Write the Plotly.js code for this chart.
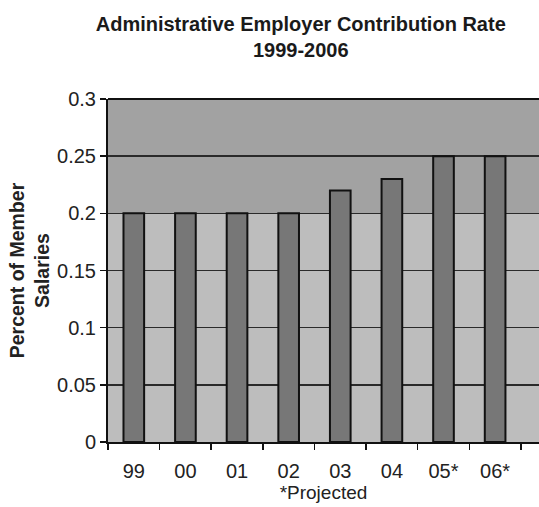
<!DOCTYPE html>
<html>
<head>
<meta charset="utf-8">
<script src="https://cdn.plot.ly/plotly-3.0.1.min.js"></script>
<style>html,body{margin:0;padding:0;background:#fff;}#chart{width:539px;height:507px;}</style>
</head>
<body>
<div id="chart"></div>
<script>
const years = ['99', '00', '01', '02', '03', '04', '05*', '06*'];
const rates = [0.20, 0.20, 0.20, 0.20, 0.22, 0.23, 0.25, 0.25];
const yTicks = [0, 0.05, 0.1, 0.15, 0.2, 0.25, 0.3];
const yTickText = ['0', '0.05', '0.1', '0.15', '0.2', '0.25', '0.3'];

const font = 'Liberation Sans, Arial, sans-serif';

const trace = {
  type: 'bar',
  x: years,
  y: rates,
  marker: {color: '#777777', line: {color: '#111', width: 2}},
  hoverinfo: 'x+y'
};

const layout = {
  width: 539, height: 507,
  margin: {l: 108, r: 0, t: 99, b: 65},
  paper_bgcolor: '#ffffff',
  plot_bgcolor: '#a2a2a2',
  showlegend: false,
  bargap: 0.6,
  title: {
    text: '<b>Administrative Employer Contribution Rate<br>1999-2006</b>',
    font: {family: font, size: 20, color: '#1a1a1a'},
    x: 0.558, xanchor: 'center', xref: 'container',
    y: 0.938, yanchor: 'middle', yref: 'container'
  },
  xaxis: {
    type: 'category',
    range: [-0.5, 7.85],
    tickson: 'boundaries',
    ticks: 'outside', ticklen: 6, tickwidth: 1.5, tickcolor: '#111',
    ticklabelstandoff: 10,
    showline: true, linecolor: '#111', linewidth: 2,
    showgrid: false,
    tickfont: {family: font, size: 20, color: '#222'},
    title: {text: '*Projected', font: {family: font, size: 19, color: '#222'}, standoff: 4},
    fixedrange: true
  },
  yaxis: {
    range: [0, 0.3],
    tickvals: yTicks, ticktext: yTickText,
    ticks: 'outside', ticklen: 6, tickwidth: 1.5, tickcolor: '#111',
    showline: true, linecolor: '#111', linewidth: 2,
    showgrid: true, gridcolor: '#2a2a2a', gridwidth: 1.5,
    zeroline: false,
    tickfont: {family: font, size: 20, color: '#222'},
    title: {text: '<b>Percent of Member<br>Salaries</b>', font: {family: font, size: 19.5, color: '#222'}, standoff: 2},
    automargin: false,
    fixedrange: true
  },
  shapes: [
    {type: 'rect', xref: 'paper', yref: 'y', x0: 0, x1: 1, y0: 0, y1: 0.2,
     fillcolor: '#bdbdbd', line: {width: 0}, layer: 'below'},
    {type: 'line', xref: 'paper', yref: 'paper', x0: 0, x1: 1, y0: 1, y1: 1,
     line: {color: '#111', width: 2}, layer: 'above'}
  ]
};

Plotly.newPlot('chart', [trace], layout, {displayModeBar: false, staticPlot: true});
</script>
</body>
</html>
